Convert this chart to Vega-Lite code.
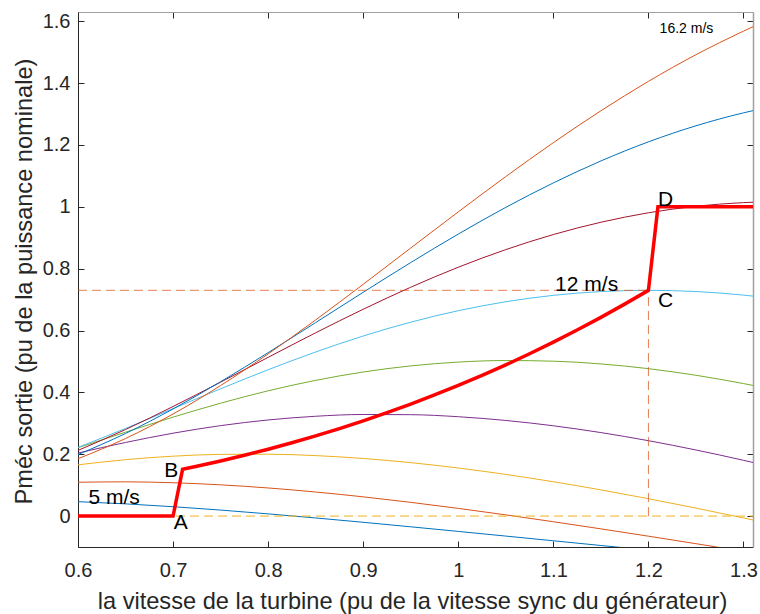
{
  "$schema": "https://vega.github.io/schema/vega-lite/v6.json",
  "width": 675,
  "height": 535,
  "autosize": {"type": "none"},
  "padding": {"left": 78, "top": 12, "right": 7, "bottom": 67},
  "background": "white",
  "config": {
    "font": "Liberation Sans",
    "view": {"stroke": null},
    "axis": {
      "grid": false,
      "domainColor": "#262626",
      "tickColor": "#262626",
      "labelColor": "#262626",
      "titleColor": "#262626",
      "labelFont": "Liberation Sans",
      "titleFont": "Liberation Sans",
      "labelFontSize": 20,
      "titleFontSize": 23.6,
      "titleFontWeight": "normal",
      "labelFlush": false,
      "labelOverlap": false,
      "tickSize": -6,
      "tickWidth": 1,
      "domainWidth": 1
    }
  },
  "datasets": {
    "curves": [
      {"v": "5", "w": 0.6, "p": 0.0466}, {"v": "5", "w": 0.65, "p": 0.0395}, {"v": "5", "w": 0.7, "p": 0.0303},
      {"v": "5", "w": 0.75, "p": 0.0194}, {"v": "5", "w": 0.8, "p": 0.0071}, {"v": "5", "w": 0.85, "p": -0.0061},
      {"v": "5", "w": 0.9, "p": -0.0201}, {"v": "5", "w": 0.95, "p": -0.0347}, {"v": "5", "w": 1.0, "p": -0.0496},
      {"v": "5", "w": 1.05, "p": -0.0647}, {"v": "5", "w": 1.1, "p": -0.0799}, {"v": "5", "w": 1.15, "p": -0.0951},
      {"v": "5", "w": 1.2, "p": -0.1102},

      {"v": "6.4", "w": 0.6, "p": 0.1094}, {"v": "6.4", "w": 0.65, "p": 0.1107}, {"v": "6.4", "w": 0.7, "p": 0.1078},
      {"v": "6.4", "w": 0.75, "p": 0.1010}, {"v": "6.4", "w": 0.8, "p": 0.0909}, {"v": "6.4", "w": 0.85, "p": 0.0778},
      {"v": "6.4", "w": 0.9, "p": 0.0622}, {"v": "6.4", "w": 0.95, "p": 0.0444}, {"v": "6.4", "w": 1.0, "p": 0.0249},
      {"v": "6.4", "w": 1.05, "p": 0.0039}, {"v": "6.4", "w": 1.1, "p": -0.0183}, {"v": "6.4", "w": 1.15, "p": -0.0413},
      {"v": "6.4", "w": 1.2, "p": -0.0650}, {"v": "6.4", "w": 1.25, "p": -0.0893}, {"v": "6.4", "w": 1.3, "p": -0.1139},

      {"v": "7.8", "w": 0.6, "p": 0.1658}, {"v": "7.8", "w": 0.65, "p": 0.1824}, {"v": "7.8", "w": 0.7, "p": 0.1937},
      {"v": "7.8", "w": 0.75, "p": 0.1995}, {"v": "7.8", "w": 0.8, "p": 0.2001}, {"v": "7.8", "w": 0.85, "p": 0.1955},
      {"v": "7.8", "w": 0.9, "p": 0.1863}, {"v": "7.8", "w": 0.95, "p": 0.1728}, {"v": "7.8", "w": 1.0, "p": 0.1554},
      {"v": "7.8", "w": 1.05, "p": 0.1347}, {"v": "7.8", "w": 1.1, "p": 0.1110}, {"v": "7.8", "w": 1.15, "p": 0.0847},
      {"v": "7.8", "w": 1.2, "p": 0.0562}, {"v": "7.8", "w": 1.25, "p": 0.0258}, {"v": "7.8", "w": 1.3, "p": -0.0061},
      {"v": "7.8", "w": 1.31, "p": -0.0127},

      {"v": "9.2", "w": 0.6, "p": 0.2038}, {"v": "9.2", "w": 0.65, "p": 0.2380}, {"v": "9.2", "w": 0.7, "p": 0.2680},
      {"v": "9.2", "w": 0.75, "p": 0.2924}, {"v": "9.2", "w": 0.8, "p": 0.3108}, {"v": "9.2", "w": 0.85, "p": 0.3228},
      {"v": "9.2", "w": 0.9, "p": 0.3285}, {"v": "9.2", "w": 0.95, "p": 0.3279}, {"v": "9.2", "w": 1.0, "p": 0.3213},
      {"v": "9.2", "w": 1.05, "p": 0.3092}, {"v": "9.2", "w": 1.1, "p": 0.2920}, {"v": "9.2", "w": 1.15, "p": 0.2700},
      {"v": "9.2", "w": 1.2, "p": 0.2438}, {"v": "9.2", "w": 1.25, "p": 0.2137}, {"v": "9.2", "w": 1.3, "p": 0.1803},
      {"v": "9.2", "w": 1.31, "p": 0.1732},

      {"v": "10.6", "w": 0.6, "p": 0.2211}, {"v": "10.6", "w": 0.65, "p": 0.2713}, {"v": "10.6", "w": 0.7, "p": 0.3199},
      {"v": "10.6", "w": 0.75, "p": 0.3650}, {"v": "10.6", "w": 0.8, "p": 0.4051}, {"v": "10.6", "w": 0.85, "p": 0.4389},
      {"v": "10.6", "w": 0.9, "p": 0.4659}, {"v": "10.6", "w": 0.95, "p": 0.4856}, {"v": "10.6", "w": 1.0, "p": 0.4980},
      {"v": "10.6", "w": 1.05, "p": 0.5030}, {"v": "10.6", "w": 1.1, "p": 0.5009}, {"v": "10.6", "w": 1.15, "p": 0.4920},
      {"v": "10.6", "w": 1.2, "p": 0.4767}, {"v": "10.6", "w": 1.25, "p": 0.4553}, {"v": "10.6", "w": 1.3, "p": 0.4284},
      {"v": "10.6", "w": 1.31, "p": 0.4224},

      {"v": "12", "w": 0.6, "p": 0.2219}, {"v": "12", "w": 0.65, "p": 0.2834}, {"v": "12", "w": 0.7, "p": 0.3475},
      {"v": "12", "w": 0.75, "p": 0.4116}, {"v": "12", "w": 0.8, "p": 0.4732}, {"v": "12", "w": 0.85, "p": 0.5306},
      {"v": "12", "w": 0.9, "p": 0.5823}, {"v": "12", "w": 0.95, "p": 0.6270}, {"v": "12", "w": 1.0, "p": 0.6641},
      {"v": "12", "w": 1.05, "p": 0.6931}, {"v": "12", "w": 1.1, "p": 0.7137}, {"v": "12", "w": 1.15, "p": 0.7260},
      {"v": "12", "w": 1.2, "p": 0.7300}, {"v": "12", "w": 1.25, "p": 0.7261}, {"v": "12", "w": 1.3, "p": 0.7145},
      {"v": "12", "w": 1.31, "p": 0.7112},

      {"v": "13.4", "w": 0.6, "p": 0.2124}, {"v": "13.4", "w": 0.65, "p": 0.2799}, {"v": "13.4", "w": 0.7, "p": 0.3543},
      {"v": "13.4", "w": 0.75, "p": 0.4330}, {"v": "13.4", "w": 0.8, "p": 0.5133}, {"v": "13.4", "w": 0.85, "p": 0.5927},
      {"v": "13.4", "w": 0.9, "p": 0.6688}, {"v": "13.4", "w": 0.95, "p": 0.7400}, {"v": "13.4", "w": 1.0, "p": 0.8047},
      {"v": "13.4", "w": 1.05, "p": 0.8617}, {"v": "13.4", "w": 1.1, "p": 0.9104}, {"v": "13.4", "w": 1.15, "p": 0.9501},
      {"v": "13.4", "w": 1.2, "p": 0.9807}, {"v": "13.4", "w": 1.25, "p": 1.0018}, {"v": "13.4", "w": 1.3, "p": 1.0136},
      {"v": "13.4", "w": 1.31, "p": 1.0149},

      {"v": "14.8", "w": 0.6, "p": 0.1988}, {"v": "14.8", "w": 0.65, "p": 0.2671}, {"v": "14.8", "w": 0.7, "p": 0.3464},
      {"v": "14.8", "w": 0.75, "p": 0.4344}, {"v": "14.8", "w": 0.8, "p": 0.5285}, {"v": "14.8", "w": 0.85, "p": 0.6258},
      {"v": "14.8", "w": 0.9, "p": 0.7237}, {"v": "14.8", "w": 0.95, "p": 0.8198}, {"v": "14.8", "w": 1.0, "p": 0.9119},
      {"v": "14.8", "w": 1.05, "p": 0.9983}, {"v": "14.8", "w": 1.1, "p": 1.0774}, {"v": "14.8", "w": 1.15, "p": 1.1483},
      {"v": "14.8", "w": 1.2, "p": 1.2101}, {"v": "14.8", "w": 1.25, "p": 1.2620}, {"v": "14.8", "w": 1.3, "p": 1.3039},
      {"v": "14.8", "w": 1.31, "p": 1.3110},

      {"v": "16.2", "w": 0.6, "p": 0.1854}, {"v": "16.2", "w": 0.65, "p": 0.2508}, {"v": "16.2", "w": 0.7, "p": 0.3302},
      {"v": "16.2", "w": 0.75, "p": 0.4221}, {"v": "16.2", "w": 0.8, "p": 0.5244}, {"v": "16.2", "w": 0.85, "p": 0.6344},
      {"v": "16.2", "w": 0.9, "p": 0.7495}, {"v": "16.2", "w": 0.95, "p": 0.8668}, {"v": "16.2", "w": 1.0, "p": 0.9837},
      {"v": "16.2", "w": 1.05, "p": 1.0979}, {"v": "16.2", "w": 1.1, "p": 1.2075}, {"v": "16.2", "w": 1.15, "p": 1.3105},
      {"v": "16.2", "w": 1.2, "p": 1.4057}, {"v": "16.2", "w": 1.25, "p": 1.4919}, {"v": "16.2", "w": 1.3, "p": 1.5681},
      {"v": "16.2", "w": 1.31, "p": 1.5825}
    ],
    "tracking": [
      {"w": 0.6, "p": 0}, {"w": 0.7, "p": 0}, {"w": 0.71, "p": 0.1512}, {"w": 0.725, "p": 0.1610},
      {"w": 0.75, "p": 0.1782}, {"w": 0.775, "p": 0.1967}, {"w": 0.8, "p": 0.2163}, {"w": 0.825, "p": 0.2372},
      {"w": 0.85, "p": 0.2594}, {"w": 0.875, "p": 0.2830}, {"w": 0.9, "p": 0.3080}, {"w": 0.925, "p": 0.3344},
      {"w": 0.95, "p": 0.3622}, {"w": 0.975, "p": 0.3916}, {"w": 1.0, "p": 0.4225}, {"w": 1.025, "p": 0.4549},
      {"w": 1.05, "p": 0.4890}, {"w": 1.075, "p": 0.5248}, {"w": 1.1, "p": 0.5623}, {"w": 1.125, "p": 0.6015},
      {"w": 1.15, "p": 0.6425}, {"w": 1.175, "p": 0.6853}, {"w": 1.2, "p": 0.73}, {"w": 1.21, "p": 1.0},
      {"w": 1.31, "p": 1.0}
    ],
    "guidesOrange": [
      {"w": 0.6, "w2": 1.2, "p": 0.73, "p2": 0.73},
      {"w": 1.2, "w2": 1.2, "p": 0, "p2": 0.73}
    ],
    "guidesYellow": [
      {"w": 0.6, "w2": 1.31, "p": 0, "p2": 0}
    ],
    "labels": [
      {"t": "5 m/s", "w": 0.638, "p": 0.060},
      {"t": "12 m/s", "w": 1.135, "p": 0.748},
      {"t": "A", "w": 0.708, "p": -0.024},
      {"t": "B", "w": 0.698, "p": 0.146},
      {"t": "C", "w": 1.218, "p": 0.695},
      {"t": "D", "w": 1.218, "p": 1.021}
    ],
    "smallLabels": [
      {"t": "16.2 m/s", "w": 1.24, "p": 1.576}
    ],
    "frame": [
      {"w": 0.6, "p": 0}
    ]
  },
  "layer": [
    {
      "data": {"name": "curves"},
      "mark": {"type": "line", "strokeWidth": 1, "clip": true, "interpolate": "monotone"},
      "encoding": {
        "x": {
          "field": "w", "type": "quantitative",
          "scale": {"domain": [0.6, 1.31], "nice": false, "zero": false},
          "axis": {
            "orient": "bottom",
            "values": [0.6, 0.7, 0.8, 0.9, 1, 1.1, 1.2, 1.3],
            "format": "~g",
            "labelPadding": 19,
            "title": "la vitesse de la turbine (pu de la vitesse sync du générateur)",
            "titleX": 334, "titleY": 61, "titleAlign": "center", "titleBaseline": "alphabetic", "titleAngle": 0
          }
        },
        "y": {
          "field": "p", "type": "quantitative",
          "scale": {"domain": [-0.1, 1.63], "nice": false, "zero": false},
          "axis": {
            "orient": "left",
            "values": [0, 0.2, 0.4, 0.6, 0.8, 1, 1.2, 1.4, 1.6],
            "format": "~g",
            "labelPadding": 14,
            "title": "Pméc sortie (pu de la puissance nominale)",
            "titleX": -47, "titleY": 269, "titleAlign": "center", "titleBaseline": "alphabetic", "titleAngle": 270
          }
        },
        "color": {
          "field": "v", "type": "nominal",
          "scale": {
            "domain": ["5", "6.4", "7.8", "9.2", "10.6", "12", "13.4", "14.8", "16.2"],
            "range": ["#0072BD", "#D95319", "#EDB120", "#7E2F8E", "#77AC30", "#4DBEEE", "#A2142F", "#0072BD", "#D95319"]
          },
          "legend": null
        }
      }
    },
    {
      "data": {"name": "guidesOrange"},
      "mark": {"type": "rule", "color": "#D95319", "opacity": 0.75, "strokeWidth": 1, "strokeDash": [9, 5]},
      "encoding": {
        "x": {"field": "w", "type": "quantitative", "scale": {"domain": [0.6, 1.31], "nice": false, "zero": false}, "axis": null},
        "x2": {"field": "w2"},
        "y": {"field": "p", "type": "quantitative", "scale": {"domain": [-0.1, 1.63], "nice": false, "zero": false}, "axis": null},
        "y2": {"field": "p2"}
      }
    },
    {
      "data": {"name": "guidesYellow"},
      "mark": {"type": "rule", "color": "#EDB120", "strokeWidth": 1, "strokeDash": [9, 5]},
      "encoding": {
        "x": {"field": "w", "type": "quantitative", "scale": {"domain": [0.6, 1.31], "nice": false, "zero": false}, "axis": null},
        "x2": {"field": "w2"},
        "y": {"field": "p", "type": "quantitative", "scale": {"domain": [-0.1, 1.63], "nice": false, "zero": false}, "axis": null},
        "y2": {"field": "p2"}
      }
    },
    {
      "data": {"name": "tracking"},
      "mark": {"type": "line", "color": "#FF0000", "strokeWidth": 3.5, "strokeJoin": "miter"},
      "encoding": {
        "x": {"field": "w", "type": "quantitative", "scale": {"domain": [0.6, 1.31], "nice": false, "zero": false}, "axis": null},
        "y": {"field": "p", "type": "quantitative", "scale": {"domain": [-0.1, 1.63], "nice": false, "zero": false}, "axis": null}
      }
    },
    {
      "data": {"name": "labels"},
      "mark": {"type": "text", "fontSize": 21, "color": "#000000", "align": "center", "baseline": "middle", "font": "Liberation Sans"},
      "encoding": {
        "x": {"field": "w", "type": "quantitative", "scale": {"domain": [0.6, 1.31], "nice": false, "zero": false}, "axis": null},
        "y": {"field": "p", "type": "quantitative", "scale": {"domain": [-0.1, 1.63], "nice": false, "zero": false}, "axis": null},
        "text": {"field": "t"}
      }
    },
    {
      "data": {"name": "smallLabels"},
      "mark": {"type": "text", "fontSize": 14, "color": "#000000", "align": "center", "baseline": "middle", "font": "Liberation Sans"},
      "encoding": {
        "x": {"field": "w", "type": "quantitative", "scale": {"domain": [0.6, 1.31], "nice": false, "zero": false}, "axis": null},
        "y": {"field": "p", "type": "quantitative", "scale": {"domain": [-0.1, 1.63], "nice": false, "zero": false}, "axis": null},
        "text": {"field": "t"}
      }
    },
    {
      "data": {"name": "frame"},
      "mark": {"type": "point", "opacity": 0},
      "encoding": {
        "x": {
          "field": "w", "type": "quantitative",
          "scale": {"domain": [0.6, 1.31], "nice": false, "zero": false},
          "axis": {"orient": "top", "values": [0.6, 0.7, 0.8, 0.9, 1, 1.1, 1.2, 1.3], "labels": false, "title": null, "domainColor": "#a0a0a0"}
        },
        "y": {
          "field": "p", "type": "quantitative",
          "scale": {"domain": [-0.1, 1.63], "nice": false, "zero": false},
          "axis": {"orient": "right", "values": [0, 0.2, 0.4, 0.6, 0.8, 1, 1.2, 1.4, 1.6], "labels": false, "title": null, "domainColor": "#a0a0a0", "domainWidth": 1.5}
        }
      }
    }
  ],
  "resolve": {"axis": {"x": "independent", "y": "independent"}}
}
